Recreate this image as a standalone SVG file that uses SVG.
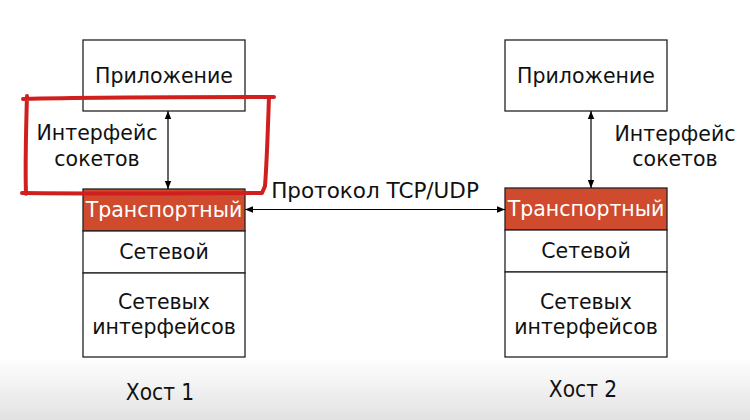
<svg xmlns="http://www.w3.org/2000/svg" width="750" height="420" viewBox="0 0 750 420">
<defs>
<linearGradient id="bg" x1="0" y1="0" x2="0" y2="1">
<stop offset="0" stop-color="#ffffff"/>
<stop offset="0.85" stop-color="#ffffff"/>
<stop offset="1" stop-color="#e2e2e2"/>
</linearGradient>
<marker id="ah" viewBox="0 0 10 10" refX="10" refY="5" markerWidth="8" markerHeight="8" markerUnits="userSpaceOnUse" orient="auto-start-reverse">
<path d="M0,1 L10,5 L0,9 z" fill="#000"/>
</marker>
<style>
.box{fill:#fff;stroke:#222;stroke-width:1.3}
.tr{fill:#d04a2d;stroke:#222;stroke-width:1.3}
.t{font-family:"DejaVu Sans",sans-serif;font-size:20.5px;fill:#111;text-anchor:middle}
.p{font-size:21.5px}
.w{fill:#fff}
.h{font-family:"DejaVu Sans Condensed","DejaVu Sans",sans-serif;font-size:22.5px;fill:#111;text-anchor:middle}
.c{stroke:#000;stroke-width:1.2;fill:none;marker-start:url(#ah);marker-end:url(#ah)}
</style>
</defs>
<rect width="750" height="420" fill="url(#bg)"/>
<g id="host1">
<g id="app1"><rect class="box" x="83" y="40" width="162" height="71"/><text class="t" x="164" y="83">Приложение</text></g>
<g id="transport1"><rect class="tr" x="83" y="189" width="162" height="42"/><text class="t w" x="164" y="217">Транспортный</text></g>
<g id="net1"><rect class="box" x="83" y="231" width="162" height="42"/><text class="t" x="164" y="259">Сетевой</text></g>
<g id="link1"><rect class="box" x="83" y="273" width="162" height="84"/><text class="t" x="164" y="309">Сетевых</text><text class="t" x="164" y="334">интерфейсов</text></g>
<text class="h" x="160" y="400">Хост 1</text>
</g>
<g id="host2">
<g id="app2"><rect class="box" x="505" y="40" width="162" height="71"/><text class="t" x="586" y="83">Приложение</text></g>
<g id="transport2"><rect class="tr" x="505" y="188" width="162" height="42"/><text class="t w" x="586" y="216">Транспортный</text></g>
<g id="net2"><rect class="box" x="505" y="230" width="162" height="42"/><text class="t" x="586" y="258">Сетевой</text></g>
<g id="link2"><rect class="box" x="505" y="272" width="162" height="85"/><text class="t" x="586" y="309">Сетевых</text><text class="t" x="586" y="334">интерфейсов</text></g>
<text class="h" x="583" y="397">Хост 2</text>
</g>
<g id="connectors">
<line class="c" x1="168" y1="111" x2="168" y2="189"/>
<line class="c" x1="591" y1="111" x2="591" y2="188"/>
<line class="c" x1="245" y1="209.5" x2="505" y2="209.5"/>
</g>
<g id="labels">
<text class="t" x="97" y="140">Интерфейс</text>
<text class="t" x="97" y="166">сокетов</text>
<text class="t" x="675" y="141">Интерфейс</text>
<text class="t" x="675" y="166">сокетов</text>
<text class="t p" x="375" y="198">Протокол TCP/UDP</text>
</g>
<path id="highlight" d="M23,99 C90,97 200,97 274,97 M269,97 C268,125 267,160 265,186 L262,193 C200,193 120,194 22,193 M27,96 C26,130 25,165 26,194" fill="none" stroke="#d01f1f" stroke-width="4" stroke-linecap="round" stroke-linejoin="round"/>
</svg>
